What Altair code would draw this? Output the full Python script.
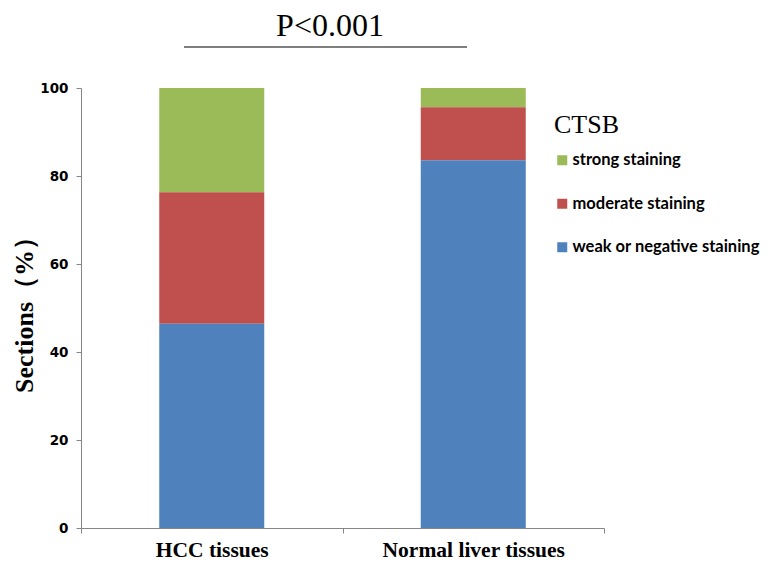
import altair as alt
import pandas as pd

groups = ["HCC tissues", "Normal liver tissues"]
levels = ["strong staining", "moderate staining", "weak or negative staining"]
stack_rank = [2, 1, 0]
colors = ["#9BBB59", "#C0504D", "#4F81BD"]
hcc_values = [23.7, 29.9, 46.4]
normal_values = [4.4, 12.0, 83.6]
y_ticks = [0, 20, 40, 60, 80, 100]
p_text = "P<0.001"

rows = []
for lvl, rk, h, n in zip(levels, stack_rank, hcc_values, normal_values):
    rows.append({"group": groups[0], "level": lvl, "rank": rk, "value": h})
    rows.append({"group": groups[1], "level": lvl, "rank": rk, "value": n})
df = pd.DataFrame(rows)

bars = alt.Chart(df).mark_bar(size=105).encode(
    x=alt.X("group:N", sort=groups, title=None,
            scale=alt.Scale(paddingInner=0, paddingOuter=0),
            axis=alt.Axis(labelAngle=0, labelFont="Liberation Serif", labelFontWeight="bold",
                          labelFontSize=21.5, labelColor="#000000", labelPadding=6,
                          labelLimit=400,
                          domainColor="#868686", tickColor="#868686", tickSize=5,
                          tickBand="extent", ticks=True)),
    y=alt.Y("value:Q", stack="zero", title="Sections（%）",
            scale=alt.Scale(domain=[0, 100], nice=False),
            axis=alt.Axis(values=y_ticks, grid=False, labelFont="DejaVu Sans",
                          labelFontWeight="bold", labelFontSize=13.5, labelColor="#000000",
                          labelPadding=8, domainColor="#868686", tickColor="#868686",
                          tickSize=5, titleFont="Liberation Serif", titleFontWeight="bold",
                          titleFontSize=26, titleColor="#000000", titlePadding=2)),
    color=alt.Color("level:N", scale=alt.Scale(domain=levels, range=colors),
                    legend=alt.Legend(title="CTSB", orient="none", legendX=473, legendY=24,
                                      titleFont="Liberation Serif", titleFontSize=26,
                                      titleFontWeight="normal", titleColor="#000000",
                                      titlePadding=14, labelLimit=400,
                                      labelFont="Lato", labelFontSize=16.5,
                                      labelColor="#000000", labelFontWeight="bold",
                                      symbolType="square", symbolSize=100, symbolStrokeWidth=0,
                                      rowPadding=26.5, labelOffset=2)),
    order=alt.Order("rank:Q", sort="ascending"),
)

ann = pd.DataFrame({"label": [p_text]})
p_label = alt.Chart(ann).mark_text(font="Liberation Serif", fontSize=32, color="#000000",
                                   align="center", baseline="alphabetic").encode(
    x=alt.value(249), y=alt.value(-52), text="label:N")
p_line = alt.Chart(ann).mark_rule(color="#555555", strokeWidth=1.5).encode(
    x=alt.value(103), x2=alt.value(386), y=alt.value(-41))

chart = alt.layer(bars, p_label, p_line).properties(
    width=523, height=440,
    autosize=alt.AutoSizeParams(type="none"),
    padding={"left": 73, "top": 80, "right": 159, "bottom": 34},
).configure_view(stroke=None)

chart.save("out.html", embed_options={"renderer": "svg", "actions": False})
